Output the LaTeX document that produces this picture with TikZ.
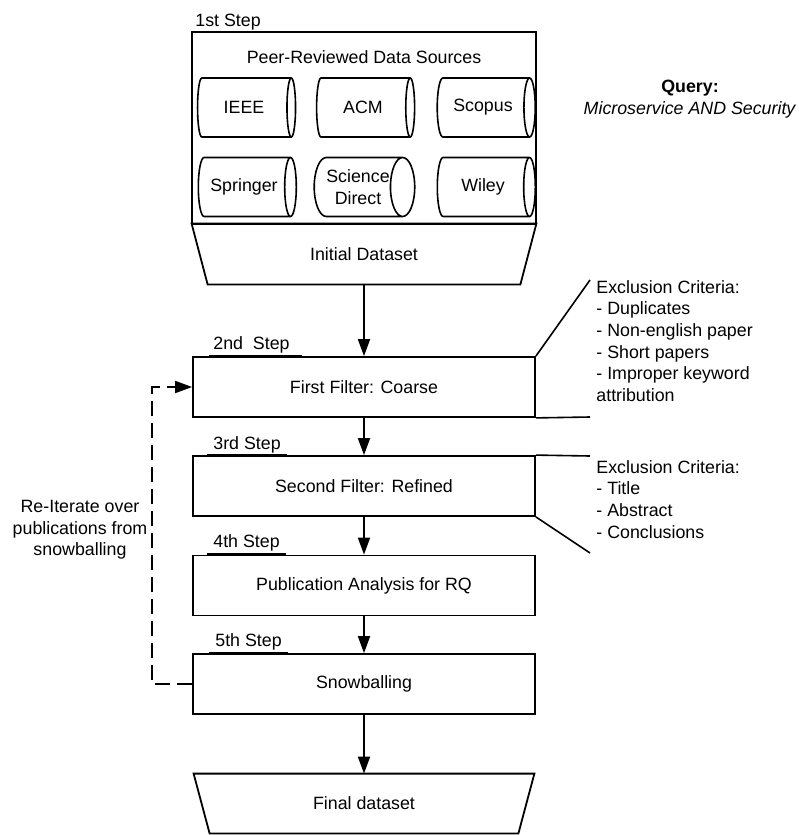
\documentclass[tikz,border=0pt]{standalone}
\usepackage{fontspec}
\setmainfont{Liberation Sans}
\usepackage{tikz}
\usetikzlibrary{shapes.geometric}
\usetikzlibrary{arrows.meta}
\tikzset{>={Triangle[length=8.5pt,width=6pt]}}
\tikzset{
  stepbox/.style={draw,line width=0.9pt,minimum width=171pt,minimum height=30pt,inner sep=0pt},
  dataset/.style={minimum width=171pt,minimum height=30pt,inner sep=0pt},
  source/.style={draw,line width=0.8pt,cylinder,shape aspect=0.7,minimum height=49pt,
    minimum width=29.5pt,inner sep=0pt,align=center},
  steplabel/.style={anchor=base west,inner sep=0pt},
  steprule/.style={line width=1.5pt},
  crit/.style={anchor=north west,inner sep=0pt,align=left}
}
\begin{document}
\begin{tikzpicture}[x=0.5pt,y=-0.5pt,font=\fontsize{8.9}{10.8}\selectfont]
       \useasboundingbox (0,0) rectangle (798,835);
       \node[draw,line width=0.9pt,minimum width=172pt,minimum height=96pt,inner sep=0pt] (srcs) at (364,128) {};
       \node[steplabel] (l1) at (195,26.4) {1st Step};
       \node (title) at (364,57) {Peer-Reviewed Data Sources};
       \node[source] (ieee) at (244,107.5) {IEEE};
       \node[source] (acm) at (363,107.5) {ACM};
       \node[source] (scopus) at (483,107.5) {Scopus};
       \node[source] (springer) at (244,187) {Springer};
       \node[source] (sd) at (358,187) {Science\\Direct};
       \node[source] (wiley) at (483,187) {Wiley};
       \node[dataset,minimum width=172pt] (init) at (364,254) {Initial Dataset};
       \draw[line width=0.9pt] (init.north west) -- (init.north east) -- ([xshift=-8pt]init.south east)
         -- ([xshift=8pt]init.south west) -- cycle;
       \node[align=center] (query) at (690,99) {\textbf{Query:}\\\textit{Microservice AND Security}};
       \node[stepbox] (coarse) at (364,387) {First Filter: Coarse};
       \node[stepbox] (refined) at (364,486) {Second Filter: Refined};
       \node[stepbox] (analysis) at (364,585.5) {Publication Analysis for RQ};
       \node[stepbox] (snowball) at (364,684) {Snowballing};
       \node[dataset,minimum width=170pt,minimum height=29.5pt] (final) at (364,803.5) {Final dataset};
       \draw[line width=0.9pt] (final.north west) -- (final.north east) -- ([xshift=-8pt]final.south east)
         -- ([xshift=8pt]final.south west) -- cycle;
       \node[steplabel] (l2) at (213,349.4) {2nd\ \ Step};
       \node[steplabel] (l3) at (213,449.4) {3rd Step};
       \node[steplabel] (l4) at (213,547.4) {4th Step};
       \node[steplabel] (l5) at (215,646.4) {5th Step};
       \draw[steprule] ([xshift=-2pt]l2.west |- coarse.north) -- ([xshift=6pt]l2.east |- coarse.north);
       \draw[steprule] ([xshift=-3pt]l3.west |- refined.north) -- ([xshift=3pt]l3.east |- refined.north);
       \draw[steprule] ([xshift=-3pt]l4.west |- analysis.north) -- ([xshift=3pt]l4.east |- analysis.north);
       \draw[steprule] ([xshift=-3pt]l5.west |- snowball.north) -- ([xshift=3pt]l5.east |- snowball.north);
       \draw[->,line width=0.9pt] (init) -- (coarse);
       \draw[->,line width=0.9pt] (coarse) -- (refined);
       \draw[->,line width=0.9pt] (refined) -- (analysis);
       \draw[->,line width=0.9pt] (analysis) -- (snowball);
       \draw[->,line width=0.9pt] (snowball) -- (final);
       \draw[->,line width=0.9pt,dash pattern=on 7.5pt off 3.5pt] (snowball.west) -- ++(-40,0) |- (coarse.west);
       \node[align=center] (reiter) at (80,530) {Re-Iterate over\\publications from\\snowballing};
       \coordinate (c1) at (590,280);
       \coordinate (c2) at (590,417);
       \coordinate (c3) at (590,456);
       \coordinate (c4) at (590,553);
       \draw[line width=0.8pt] (c1) -- (coarse.north east);
       \draw[line width=0.8pt] (coarse.south east) -- (c2);
       \draw[line width=0.8pt] (c3) -- (refined.north east);
       \draw[line width=0.8pt] (refined.south east) -- (c4);
       \node[crit] (excl1) at (596,280) {Exclusion Criteria:\\- Duplicates\\- Non-english paper\\- Short papers\\- Improper keyword\\attribution};
       \node[crit] (excl2) at (596,460) {Exclusion Criteria:\\- Title\\- Abstract\\- Conclusions};
      \end{tikzpicture}
\end{document}
